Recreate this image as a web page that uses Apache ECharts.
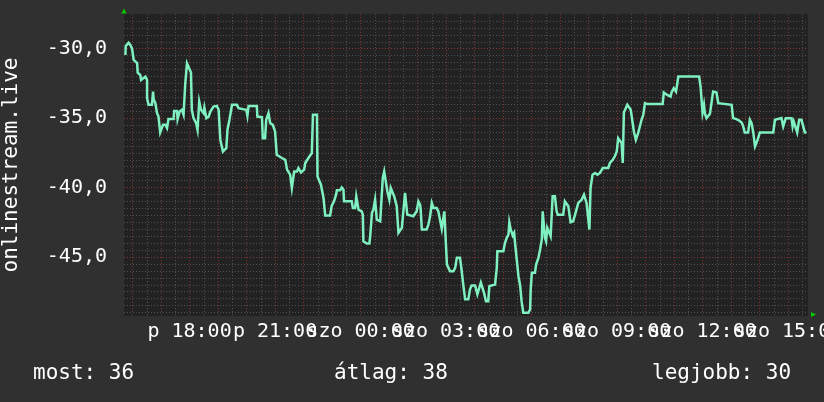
<!DOCTYPE html>
<html><head><meta charset="utf-8">
<script src="https://cdn.jsdelivr.net/npm/echarts@6/dist/echarts.min.js"></script>
<style>html,body{margin:0;padding:0;background:#303030}#c{width:824px;height:402px}</style>
</head><body><div id="c"></div>
<script>
// time in hours counted from Friday 00:00 (24 = Saturday 00:00)
const hours = [
15.75,15.76,15.86,15.92,15.98,16.02,16.04,16.10,16.16,16.18,
16.27,16.30,16.45,16.51,16.51,16.56,16.68,16.72,16.74,16.80,
16.86,16.91,16.97,17.03,17.07,17.15,17.21,17.26,17.44,17.46,
17.56,17.58,17.65,17.73,17.79,17.85,17.91,17.96,18.05,18.08,
18.14,18.23,18.28,18.34,18.40,18.47,18.49,18.52,18.59,18.67,
18.73,18.84,18.96,19.02,19.08,19.17,19.29,19.33,19.40,19.49,
19.66,19.72,19.87,19.99,20.03,20.07,20.36,20.38,20.54,20.57,
20.65,20.69,20.77,20.83,20.92,21.00,21.06,21.24,21.36,21.42,
21.53,21.59,21.65,21.67,21.77,21.82,21.91,21.98,22.02,22.06,
22.12,22.17,22.23,22.29,22.33,22.47,22.49,22.56,22.61,22.66,
22.70,22.76,22.93,22.99,23.07,23.14,23.17,23.28,23.34,23.40,
23.42,23.69,23.73,23.81,23.85,23.89,23.93,24.04,24.08,24.10,
24.22,24.31,24.34,24.40,24.45,24.51,24.55,24.57,24.69,24.75,
24.78,24.83,24.90,24.94,25.01,25.06,25.13,25.18,25.27,25.33,
25.39,25.45,25.50,25.56,25.62,25.64,25.85,25.97,26.03,26.09,
26.11,26.15,26.32,26.38,26.44,26.50,26.56,26.67,26.73,26.85,
26.91,26.94,26.98,27.03,27.08,27.14,27.26,27.32,27.38,27.49,
27.55,27.61,27.67,27.78,27.84,27.90,28.02,28.10,28.17,28.22,
28.29,28.33,28.40,28.48,28.52,28.72,28.78,28.80,29.01,29.07,
29.13,29.19,29.22,29.27,29.34,29.39,29.42,29.48,29.54,29.60,
29.65,29.71,29.89,29.95,29.97,30.01,30.12,30.16,30.24,30.30,
30.36,30.39,30.41,30.47,30.51,30.55,30.62,30.67,30.74,30.82,
30.88,30.92,31.11,31.17,31.23,31.29,31.37,31.46,31.56,31.64,
31.76,31.84,31.93,31.99,32.03,32.07,32.14,32.23,32.31,32.40,
32.46,32.50,32.69,32.75,32.85,32.93,32.99,33.04,33.10,33.16,
33.20,33.24,33.31,33.36,33.43,33.48,33.55,33.59,33.66,33.71,
33.74,33.80,33.86,33.92,33.98,34.04,34.07,34.60,34.64,34.71,
34.76,34.83,34.88,34.91,34.99,35.07,35.11,35.15,35.88,35.93,
35.97,36.00,36.05,36.08,36.14,36.20,36.26,36.37,36.43,36.49,
36.55,36.61,37.02,37.07,37.19,37.28,37.37,37.42,37.48,37.60,
37.66,37.72,37.78,37.84,37.89,37.95,38.01,38.48,38.54,38.60,
38.77,38.83,38.89,38.92,39.12,39.16,39.20,39.26,39.32,39.39,
39.47,39.53,39.59,39.65
];
const values = [
-30.45,-29.81,-29.57,-29.73,-29.97,-30.04,-30.81,-30.93,-31.03,-31.72,
-31.89,-32.25,-32.01,-32.25,-33.56,-34.04,-34.04,-33.09,-33.65,-33.92,
-34.64,-34.89,-36.03,-36.08,-35.48,-35.48,-35.72,-35.07,-35.07,-34.48,
-34.48,-35.07,-34.53,-34.40,-34.76,-32.49,-31.05,-31.05,-31.72,-34.40,
-35.00,-35.36,-35.84,-33.81,-34.40,-34.28,-34.64,-34.24,-35.00,-34.89,
-34.53,-34.17,-34.12,-34.40,-36.56,-37.40,-37.16,-35.84,-35.12,-34.04,
-34.04,-34.28,-34.35,-34.40,-34.83,-34.12,-34.12,-34.89,-34.93,-36.44,
-36.44,-35.12,-34.64,-35.36,-35.48,-35.96,-37.64,-37.87,-38.00,-38.71,
-39.07,-40.03,-40.03,-38.84,-38.84,-38.59,-38.91,-39.00,-38.71,-38.23,
-38.12,-37.87,-37.76,-37.51,-34.76,-34.76,-39.20,-39.31,-39.79,-39.79,
-40.75,-42.02,-42.02,-41.30,-40.99,-40.51,-40.20,-40.20,-39.99,-40.15,
-40.99,-40.99,-41.47,-41.47,-40.63,-40.63,-41.59,-41.71,-41.95,-43.87,
-44.03,-44.03,-43.46,-41.82,-41.59,-40.87,-40.87,-42.31,-42.43,-42.43,
-39.31,-38.84,-38.84,-40.27,-40.87,-40.03,-40.03,-40.63,-41.35,-43.26,
-43.38,-42.90,-42.79,-40.39,-40.39,-41.95,-42.07,-41.71,-40.99,-41.23,
-41.59,-43.02,-43.02,-42.67,-42.07,-41.11,-41.47,-41.47,-41.71,-42.97,
-43.02,-41.71,-41.71,-45.54,-45.66,-46.02,-46.02,-45.78,-45.06,-45.06,
-46.02,-47.10,-48.05,-48.05,-47.33,-47.05,-47.05,-47.69,-47.82,-46.85,
-46.85,-47.57,-48.18,-48.18,-47.10,-46.98,-45.78,-44.58,-44.58,-43.98,
-43.62,-43.38,-42.50,-43.02,-43.46,-43.26,-43.98,-45.18,-46.38,-47.05,
-48.18,-49.01,-49.01,-48.77,-47.33,-46.14,-46.14,-45.54,-45.06,-44.46,
-43.74,-41.71,-41.59,-43.62,-43.87,-42.90,-42.79,-43.51,-40.63,-40.63,
-41.71,-41.95,-41.95,-40.99,-41.11,-41.35,-42.50,-42.43,-41.71,-41.11,
-40.87,-40.51,-41.11,-41.11,-43.02,-40.03,-39.07,-38.95,-39.07,-38.95,
-38.95,-38.59,-38.59,-38.23,-38.00,-37.71,-37.40,-36.44,-36.36,-36.80,
-38.23,-34.60,-34.53,-34.04,-34.04,-34.40,-34.45,-35.96,-36.56,-36.56,
-36.08,-35.60,-35.12,-34.76,-33.92,-33.81,-33.99,-33.99,-33.16,-33.02,
-33.33,-33.45,-33.45,-33.16,-32.84,-33.09,-33.16,-32.01,-32.01,-32.73,
-32.77,-34.60,-34.04,-34.64,-35.00,-35.00,-34.69,-33.09,-33.02,-33.16,
-33.92,-34.04,-34.04,-35.00,-35.07,-35.17,-35.32,-35.55,-36.03,-36.03,
-35.12,-35.36,-36.03,-37.04,-36.80,-36.44,-36.03,-36.03,-35.12,-35.00,
-35.00,-35.60,-35.60,-35.00,-35.00,-35.60,-35.24,-35.24,-36.03,-35.12,
-35.12,-35.24,-36.03,-36.03
];
const xLabelHours = [18, 21, 24, 27, 30, 33, 36, 39];
const xLabels = ['p 18:00', 'p 21:00', 'szo 00:00', 'szo 03:00', 'szo 06:00', 'szo 09:00', 'szo 12:00', 'szo 15:00'];
const yLabelValues = [-45, -40, -35, -30];
const yLabels = ['-45,0', '-40,0', '-35,0', '-30,0'];
const seriesName = 'onlinestream.live';
const statNames = ['most', 'átlag', 'legjobb'];
const statValues = [36, 38, 30];

const X_MIN = 15.70, X_MAX = 39.70, Y_MIN = -49.25, Y_MAX = -27.5;
const FONT = '"DejaVu Sans Mono", monospace';
const GRID = { left: 124, top: 14, width: 684, height: 302 };

// grid line positions (style only)
const xMinor = [], xMajor = [], yMinor = [], yMajor = [];
for (let h = 16; h <= 39.5; h += 0.5) (Number.isInteger(h) ? xMajor : xMinor).push(h);
for (let v = -49; v <= -28; v += 0.5) (v % 5 === 0 ? yMajor : yMinor).push(v);

const minorLine = { show: true, lineStyle: { color: '#505050', width: 1, type: [1, 2] } };
const majorLine = { show: true, lineStyle: { color: '#803434', width: 1, type: [1, 2] } };

function labelFor(list, texts) {
  return v => { const i = list.findIndex(t => Math.abs(t - v) < 1e-6); return i >= 0 ? texts[i] : ''; };
}

const chart = echarts.init(document.getElementById('c'), null, { renderer: 'canvas' });
chart.setOption({
  backgroundColor: '#303030',
  animation: false,
  grid: Object.assign({ show: true, backgroundColor: '#222222', borderWidth: 0, containLabel: false, outerBoundsMode: 'none' }, GRID),
  xAxis: [
    { type: 'value', min: X_MIN, max: X_MAX, position: 'bottom', axisLine: { show: false },
      axisTick: { show: false, customValues: xMinor }, axisLabel: { show: false }, splitLine: minorLine },
    { type: 'value', min: X_MIN, max: X_MAX, position: 'bottom', axisLine: { show: false },
      axisTick: { show: false, customValues: xMajor }, splitLine: majorLine,
      // empty placeholder labels at both ends keep every real label visible
      axisLabel: { show: true, customValues: [X_MIN].concat(xLabelHours, [X_MAX]), margin: 6, color: '#ffffff',
        fontFamily: FONT, fontSize: 20, hideOverlap: false, showMinLabel: false, showMaxLabel: false,
        formatter: labelFor(xLabelHours, xLabels) } }
  ],
  yAxis: [
    { type: 'value', min: Y_MIN, max: Y_MAX, position: 'left', axisLine: { show: false },
      axisTick: { show: false, customValues: yMinor }, axisLabel: { show: false }, splitLine: minorLine },
    { type: 'value', min: Y_MIN, max: Y_MAX, position: 'left', axisLine: { show: false },
      axisTick: { show: false, customValues: yMajor }, splitLine: majorLine,
      axisLabel: { show: true, customValues: yLabelValues, margin: 17, color: '#ffffff',
        fontFamily: FONT, fontSize: 20, showMinLabel: true, showMaxLabel: true,
        formatter: labelFor(yLabelValues, yLabels) } }
  ],
  series: [{
    name: seriesName, type: 'line', xAxisIndex: 0, yAxisIndex: 0, z: 5,
    data: hours.map((h, i) => [h, values[i]]),
    showSymbol: false, symbol: 'none', clip: true,
    lineStyle: { color: '#7ff0c0', width: 2.5, join: 'miter' }
  }]
});

const tl = chart.convertToPixel({ xAxisIndex: 0, yAxisIndex: 0 }, [X_MIN, Y_MAX]);
const br = chart.convertToPixel({ xAxisIndex: 0, yAxisIndex: 0 }, [X_MAX, Y_MIN]);
const statX = [33, 334, 652];
chart.setOption({
  graphic: [
    { type: 'polygon', shape: { points: [[tl[0] - 2.5, tl[1] - 0.5], [tl[0] + 2.5, tl[1] - 0.5], [tl[0], tl[1] - 5.5]] }, style: { fill: '#00cc00' }, z: 10 },
    { type: 'polygon', shape: { points: [[br[0] + 3, br[1] - 4], [br[0] + 3, br[1] + 1], [br[0] + 8, br[1] - 1.5]] }, style: { fill: '#00cc00' }, z: 10 },
    { type: 'text', x: 12, y: (tl[1] + br[1]) / 2, rotation: Math.PI / 2,
      style: { text: seriesName, fill: '#ffffff', font: '21px ' + FONT, align: 'center', verticalAlign: 'middle' } }
  ].concat(statNames.map((n, i) => ({
    type: 'text', x: statX[i], y: 374,
    style: { text: n + ': ' + statValues[i], fill: '#ffffff', font: '21px ' + FONT, align: 'left', verticalAlign: 'middle' }
  })))
});
</script>
</body></html>
